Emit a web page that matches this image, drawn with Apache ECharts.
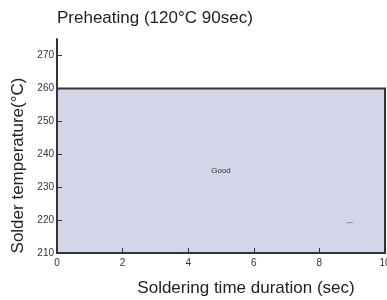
<!DOCTYPE html>
<html><head><meta charset="utf-8">
<script src="https://cdn.jsdelivr.net/npm/echarts@6/dist/echarts.min.js"></script>
<style>html,body{margin:0;padding:0;background:#fff}#c{width:387px;height:300px}</style>
</head><body><div id="c"></div>
<script>
var xTicks = [0, 2, 4, 6, 8, 10];
var yTicks = [210, 220, 230, 240, 250, 260, 270];
var regionX = [0, 10];
var regionY = [210, 260];
var regionLabel = 'Good';
var dashX = [8.82, 9.02];
var dashY = [219.2, 219.2];

var chart = echarts.init(document.getElementById('c'));
chart.setOption({
  animation: false,
  title: {text: 'Preheating (120\u00b0C 90sec)', left: 57, top: 10, padding: 0,
    textStyle: {fontFamily: 'Liberation Sans', fontSize: 17, fontWeight: 'normal', color: '#222'}},
  grid: {left: 57, right: 2, top: 39, bottom: 47, outerBoundsMode: 'none', containLabel: false},
  xAxis: {type: 'value', min: 0, max: 10, interval: 2, z: 10,
    name: 'Soldering time duration (sec)', nameLocation: 'middle', nameGap: 27,
    nameTextStyle: {fontFamily: 'Liberation Sans', fontSize: 17, color: '#222', padding: [0, 0, 0, 50]},
    axisLine: {lineStyle: {color: '#333', width: 2}},
    axisTick: {inside: true, length: 5, lineStyle: {color: '#333'}},
    axisLabel: {fontFamily: 'Liberation Sans', fontSize: 10, color: '#333', margin: 5},
    splitLine: {show: false}},
  yAxis: {type: 'value', min: 210, max: 275, interval: 10, z: 10,
    name: 'Solder temperature(\u00b0C)', nameLocation: 'middle', nameGap: 28,
    nameTextStyle: {fontFamily: 'Liberation Sans', fontSize: 17, color: '#222', padding: [0, 39, 0, 0]},
    axisLine: {lineStyle: {color: '#333', width: 2}},
    axisTick: {inside: true, length: 5, lineStyle: {color: '#333'}, customValues: yTicks},
    axisLabel: {fontFamily: 'Liberation Sans', fontSize: 10, color: '#333', margin: 3, customValues: yTicks},
    splitLine: {show: false}},
  series: [
    {type: 'line', data: [], silent: true,
      markArea: {silent: true,
        itemStyle: {color: '#d5d5ea', borderColor: '#333', borderWidth: 2},
        label: {show: true, position: 'inside', formatter: regionLabel, fontFamily: 'Liberation Sans', fontSize: 8, color: '#333'},
        data: [[{xAxis: regionX[0], yAxis: regionY[0]}, {xAxis: regionX[1], yAxis: regionY[1]}]]}},
    {type: 'line', symbol: 'none', silent: true, lineStyle: {color: '#888', width: 1},
      data: [[dashX[0], dashY[0]], [dashX[1], dashY[1]]]}
  ]
});
</script></body></html>
